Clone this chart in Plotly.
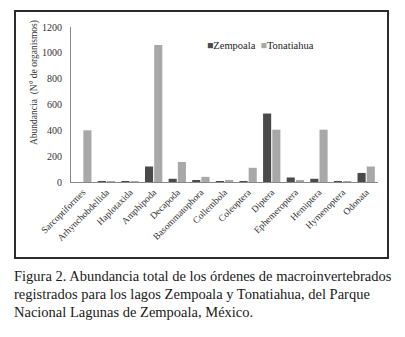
import plotly.graph_objects as go

categories = ["Sarcoptiformes", "Arhynchobdellida", "Haplotaxida", "Amphipoda", "Decapoda",
              "Basommatophora", "Collembola", "Coleoptera", "Diptera", "Ephemeroptera",
              "Hemiptera", "Hymenoptera", "Odonata"]
zempoala = [0, 2, 2, 120, 25, 15, 2, 5, 530, 35, 25, 2, 70]
tonatiahua = [400, 2, 2, 1060, 155, 40, 8, 110, 405, 8, 405, 2, 120]
y_ticks = [0, 200, 400, 600, 800, 1000, 1200]

caption = ["Figura 2. Abundancia total de los órdenes de macroinvertebrados",
           "registrados para los lagos Zempoala y Tonatiahua, del Parque",
           "Nacional Lagunas de Zempoala, México."]

Z_COLOR = "#4a4a4a"
T_COLOR = "#a8a8a8"

W, H = 405, 337
PL, PR, PT, PB = 71, 378, 27, 182   # plot area in pixels


def fx(x):
    return x / W


def fy(y):
    return 1 - y / H


serif = "Liberation Serif"

fig = go.Figure()
fig.add_trace(go.Bar(name="Zempoala", x=categories, y=zempoala, marker_color=Z_COLOR,
                     marker_line_width=0, showlegend=False))
fig.add_trace(go.Bar(name="Tonatiahua", x=categories, y=tonatiahua, marker_color=T_COLOR,
                     marker_line_width=0, showlegend=False))

# outer frame (page pixel coordinates)
FX0, FX1, FY0, FY1 = 15, 388, 11, 258
frame_line = dict(color="#2b2b2b", width=2)
shapes = [dict(type="rect", xref="paper", yref="paper", layer="above",
               x0=fx(FX0), x1=fx(FX1), y0=fy(FY1), y1=fy(FY0), line=frame_line)]

annotations = []
for i, line in enumerate(caption):
    annotations.append(dict(text=line, xref="paper", yref="paper", x=fx(12), y=fy(276 + i * 18),
                            xanchor="left", yanchor="middle", showarrow=False,
                            font=dict(family=serif, size=14.5, color="#1a1a1a")))

legend_text = (f"<span style='color:{Z_COLOR}'>■</span>Zempoala  "
               f"<span style='color:{T_COLOR}'>■</span>Tonatiahua")
annotations.append(dict(text=legend_text, xref="paper", yref="paper", x=fx(205), y=fy(45),
                        xanchor="left", yanchor="middle", showarrow=False,
                        font=dict(family=serif, size=10.5, color="#222222")))

annotations.append(dict(text="Abundancia  (N° de organismos)", xref="paper", yref="paper",
                        x=fx(35), y=fy(83), xanchor="center", yanchor="middle",
                        textangle=-90, showarrow=False,
                        font=dict(family=serif, size=9.5, color="#333333")))

fig.update_layout(
    width=W, height=H,
    margin=dict(l=0, r=0, t=0, b=0),
    paper_bgcolor="white", plot_bgcolor="rgba(0,0,0,0)",
    barmode="group", bargap=0.22, bargroupgap=0.12,
    font=dict(family=serif, color="#333333"),
    showlegend=False,
    shapes=shapes,
    annotations=annotations,
    xaxis=dict(domain=[PL / W, PR / W], showline=True, linecolor="#888888", linewidth=1,
               ticks="", tickangle=-45, automargin=False,
               tickfont=dict(family=serif, size=9.5, color="#333333"), showgrid=False),
    yaxis=dict(domain=[1 - PB / H, 1 - PT / H], range=[0, 1200], tickvals=y_ticks,
               showline=True, linecolor="#888888", automargin=False,
               linewidth=1, ticks="outside", ticklen=6, tickcolor="rgba(0,0,0,0)",
               showgrid=False, zeroline=False,
               tickfont=dict(family=serif, size=10, color="#333333")),
)

fig.write_html("out.html")
